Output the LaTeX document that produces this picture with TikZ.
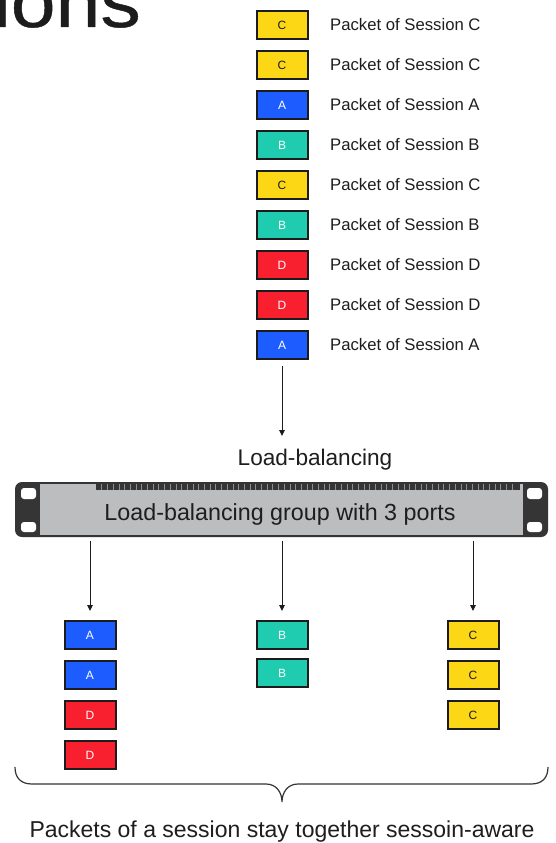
\documentclass[tikz,border=0pt]{standalone}
\usepackage{fontspec}
\setmainfont{Liberation Sans}
\newfontfamily\titlefont[FakeStretch=1.12,FakeBold=0.6]{Liberation Sans}
\usetikzlibrary{arrows.meta,calc}
\definecolor{cyel}{HTML}{FBD715}
\definecolor{cblue}{HTML}{1D5DFF}
\definecolor{cteal}{HTML}{1FCCB0}
\definecolor{cred}{HTML}{F8202F}
\definecolor{cbord}{HTML}{1C1C1C}
\definecolor{ctext}{HTML}{1E1E1E}
\definecolor{cdark}{HTML}{353535}
\definecolor{cpanel}{HTML}{BBBDBF}
\begin{document}
\begin{tikzpicture}[x=1pt,y=-1pt,
  pkt/.style={draw=cbord, line width=2pt, minimum width=51pt, minimum height=28pt, inner sep=0pt, font=\fontsize{12}{13}\selectfont},
  pa/.style={pkt, fill=cblue, text=white},
  pb/.style={pkt, fill=cteal, text=white},
  pc/.style={pkt, fill=cyel, text=cbord},
  pd/.style={pkt, fill=cred, text=white},
  lab/.style={anchor=west, text=ctext, inner sep=0pt, font=\fontsize{16.7}{18}\selectfont},
  big/.style={text=ctext, inner sep=0pt},
  arr/.style={draw=cbord, line width=1pt, -{Triangle[length=6pt,width=5.5pt]}},
  slot/.style={fill=white, rounded corners=3pt}
]
\useasboundingbox (0,0) rectangle (555,843);
\clip (0,0) rectangle (555,843);
\fill[white] (0,0) rectangle (555,843);

% title fragment
\node[anchor=base east, inner sep=0pt, text=cbord, font=\titlefont\fontsize{72}{74}\selectfont] (title) at (141,27) {ions};

% incoming packets
\node[pc] (t1) at (282,25) {C};
\node[pc] (t2) at (282,65) {C};
\node[pa] (t3) at (282,105) {A};
\node[pb] (t4) at (282,145) {B};
\node[pc] (t5) at (282,185) {C};
\node[pb] (t6) at (282,225) {B};
\node[pd] (t7) at (282,265) {D};
\node[pd] (t8) at (282,305) {D};
\node[pa] (t9) at (282,345) {A};
\node[lab] (l1) at (330,25) {Packet of Session C};
\node[lab] (l2) at (330,65) {Packet of Session C};
\node[lab] (l3) at (330,105) {Packet of Session A};
\node[lab] (l4) at (330,145) {Packet of Session B};
\node[lab] (l5) at (330,185) {Packet of Session C};
\node[lab] (l6) at (330,225) {Packet of Session B};
\node[lab] (l7) at (330,265) {Packet of Session D};
\node[lab] (l8) at (330,305) {Packet of Session D};
\node[lab] (l9) at (330,345) {Packet of Session A};

\coordinate (lbin) at (282,436);
\draw[arr] ($(t9.south)+(0,6)$) -- (lbin);

\node[big, font=\fontsize{22.6}{24}\selectfont] (lb) at (315,460) {Load-balancing};

% chassis
\fill[cdark, rounded corners=7pt] (15,482) rectangle (548,537);
\fill[cpanel] (40,484) rectangle (523,535);
\fill[cdark] (96,484) rectangle (520,489.5);
\foreach \x in {101.7,107.4,...,516} \draw[cpanel!75!black, line width=0.5pt] (\x,484) -- (\x,489.5);
\fill[slot] (21,488) rectangle (36,499);
\fill[slot] (21,522) rectangle (36,532);
\fill[slot] (527,488) rectangle (542,499);
\fill[slot] (527,522) rectangle (542,532);
\node[big, font=\fontsize{23.3}{25}\selectfont] (grp) at (280,514) {Load-balancing group with 3 ports};

\coordinate (o1) at (90,541);
\coordinate (o2) at (282,541);
\coordinate (o3) at (473,541);

% output packets
\node[pa] (a1) at (90,635) {A};
\node[pa] (a2) at (90,675) {A};
\node[pd] (a3) at (90,715) {D};
\node[pd] (a4) at (90,755) {D};
\node[pb] (b1) at (282,635) {B};
\node[pb] (b2) at (282,673) {B};
\node[pc] (c1) at (473,635) {C};
\node[pc] (c2) at (473,675) {C};
\node[pc] (c3) at (473,715) {C};

\draw[arr, shorten >=9pt] (o1) -- (a1.north);
\draw[arr, shorten >=9pt] (o2) -- (b1.north);
\draw[arr, shorten >=9pt] (o3) -- (c1.north);

% brace
\draw[cdark, line width=1.2pt]
  (15,767) .. controls (15,778) and (21,784) .. (32,784) -- (266,784)
  .. controls (276,784) and (282,792) .. (282,802)
  .. controls (282,792) and (288,784) .. (298,784) -- (531,784)
  .. controls (542,784) and (548,778) .. (548,767);

\node[big, font=\fontsize{23}{25}\selectfont] (foot) at (282,832) {Packets of a session stay together sessoin-aware};
\end{tikzpicture}
\end{document}
